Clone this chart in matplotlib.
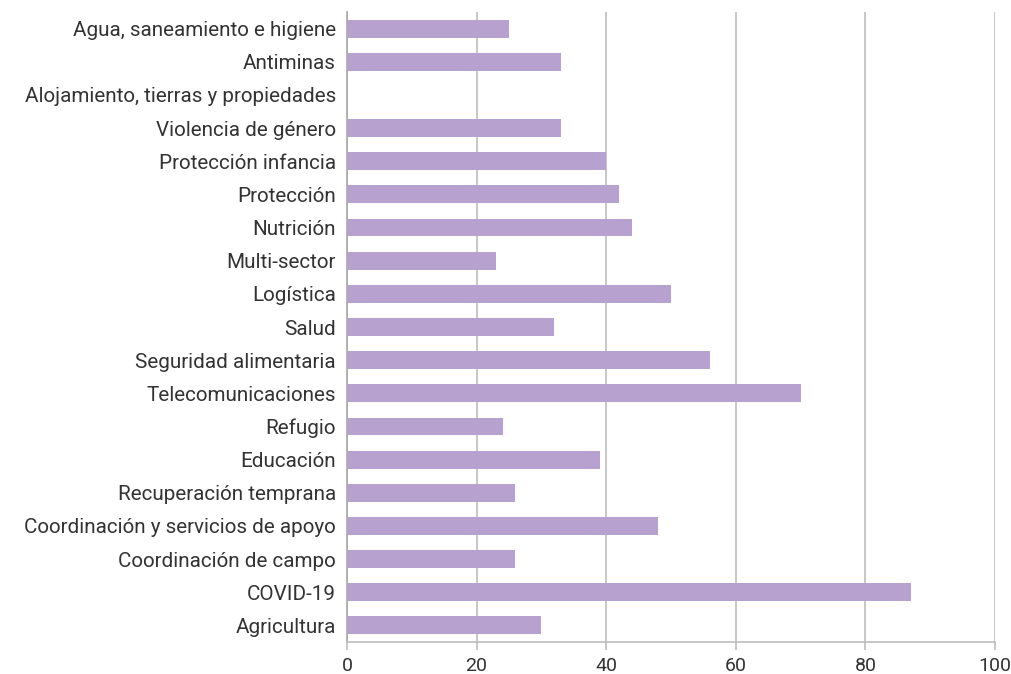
import matplotlib
matplotlib.use("Agg")
import matplotlib.pyplot as plt

sectores = [
    "Agua, saneamiento e higiene",
    "Antiminas",
    "Alojamiento, tierras y propiedades",
    "Violencia de género",
    "Protección infancia",
    "Protección",
    "Nutrición",
    "Multi-sector",
    "Logística",
    "Salud",
    "Seguridad alimentaria",
    "Telecomunicaciones",
    "Refugio",
    "Educación",
    "Recuperación temprana",
    "Coordinación y servicios de apoyo",
    "Coordinación de campo",
    "COVID-19",
    "Agricultura",
]
valores = [25, 33, 0, 33, 40, 42, 44, 23, 50, 32, 56, 70, 24, 39, 26, 48, 26, 87, 30]
ticks_x = [0, 20, 40, 60, 80, 100]

plt.rcParams["font.family"] = ["Roboto", "DejaVu Sans"]

fig = plt.figure(figsize=(10.12, 6.74), dpi=100)
ax = fig.add_axes([347 / 1012, 1 - 642 / 674, (995 - 347) / 1012, (642 - 12) / 674])

pos = list(range(len(sectores)))
ax.barh(pos, valores, height=0.54, color="#b7a2cf", zorder=3)

ax.set_xlim(0, 100)
ax.set_ylim(len(sectores) - 0.5, -0.5)
ax.set_yticks(pos)
ax.set_yticklabels(sectores)
ax.set_xticks(ticks_x)

ax.grid(axis="x", color="#bdbdbd", linewidth=1.2, zorder=0)
for side in ["top", "right"]:
    ax.spines[side].set_visible(False)
ax.spines["left"].set_color("#a8a8a8")
ax.spines["bottom"].set_color("#bdbdbd")
ax.spines["left"].set_linewidth(1.2)
ax.spines["bottom"].set_linewidth(1.2)

ax.tick_params(axis="y", length=0, pad=8, labelsize=14.9, labelcolor="#333333")
ax.tick_params(axis="x", length=6, width=1.2, color="#bdbdbd", pad=5,
               labelsize=14, labelcolor="#333333")

fig.savefig("out.png", dpi=100)
